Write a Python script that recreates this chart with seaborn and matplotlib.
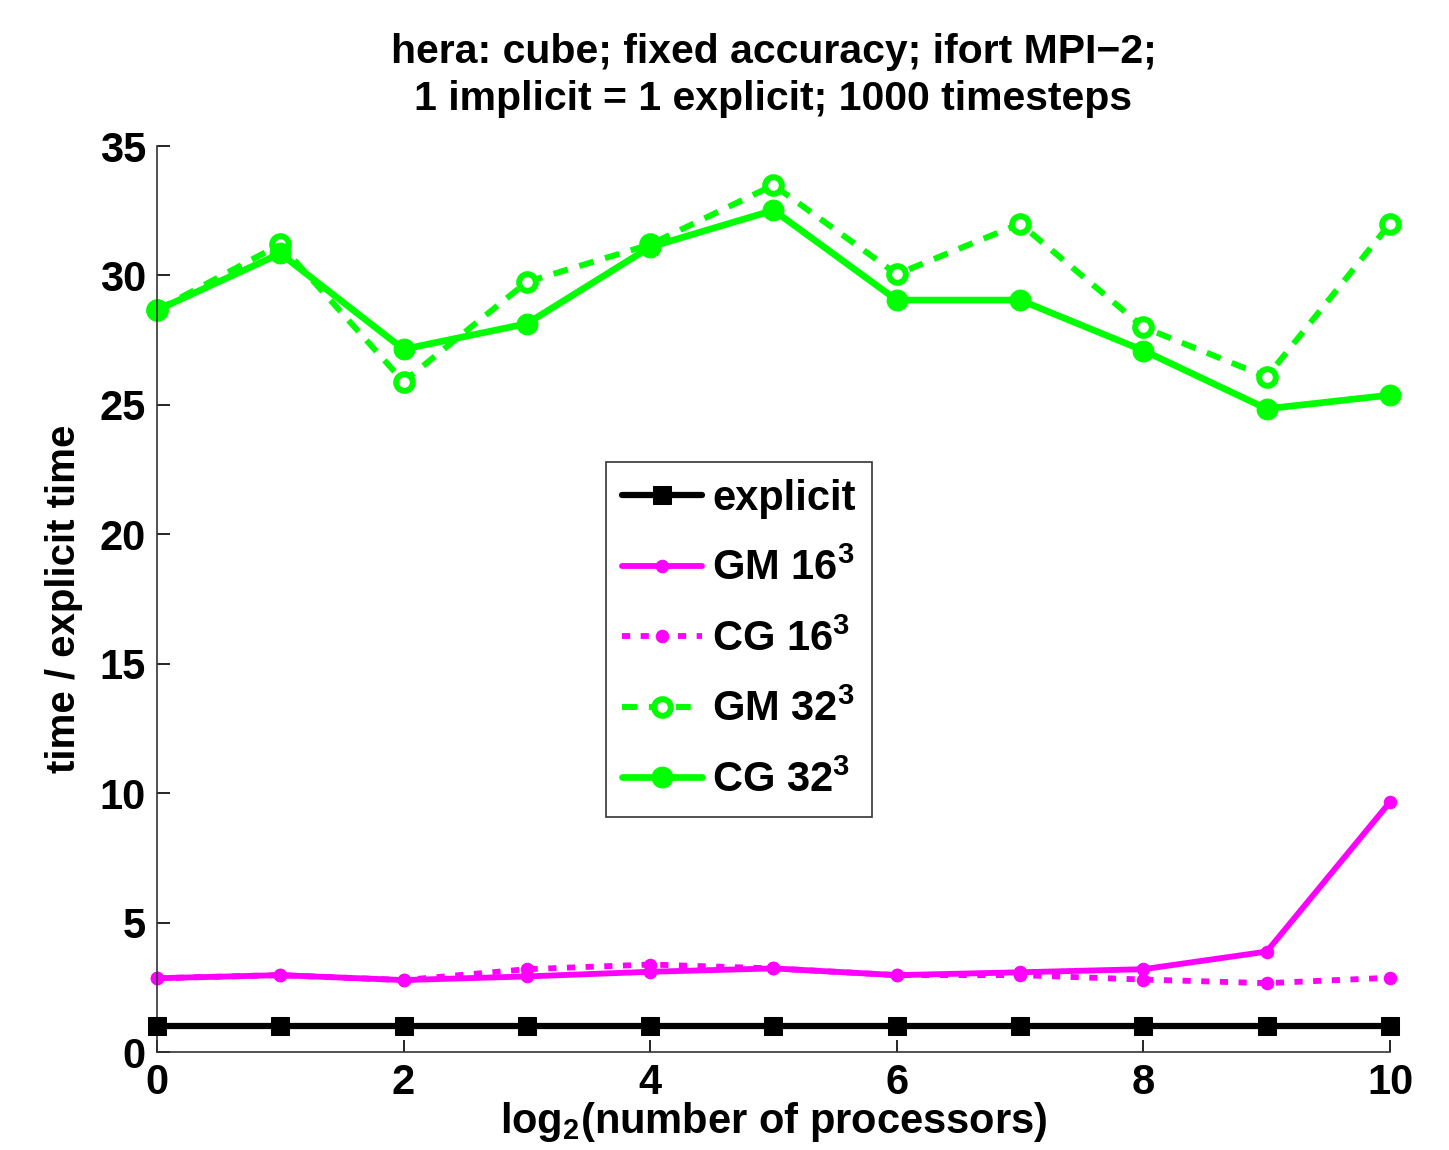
import numpy as np
import pandas as pd
import matplotlib
matplotlib.use("Agg")
import matplotlib.pyplot as plt
import seaborn as sns

# data
log2_procs = [0, 1, 2, 3, 4, 5, 6, 7, 8, 9, 10]
explicit = [1, 1, 1, 1, 1, 1, 1, 1, 1, 1, 1]
gm_16 = [2.85, 2.97, 2.78, 2.92, 3.10, 3.23, 2.97, 3.08, 3.20, 3.88, 9.66]
cg_16 = [2.85, 2.97, 2.78, 3.20, 3.38, 3.23, 2.97, 2.97, 2.80, 2.66, 2.87]
gm_32 = [28.66, 31.20, 25.90, 29.75, 31.20, 33.49, 30.05, 32.00, 28.00, 26.08, 32.00]
cg_32 = [28.66, 30.85, 27.15, 28.14, 31.10, 32.52, 29.05, 29.05, 27.10, 24.85, 25.38]

title = "hera: cube; fixed accuracy; ifort MPI\u22122;\n1 implicit = 1 explicit; 1000 timesteps"

sns.set_style("ticks")
plt.rcParams["font.family"] = ["Liberation Sans", "DejaVu Sans"]
plt.rcParams["font.weight"] = "bold"
plt.rcParams["text.color"] = "black"
plt.rcParams["axes.labelcolor"] = "black"
plt.rcParams["xtick.color"] = "black"
plt.rcParams["ytick.color"] = "black"
plt.rcParams["mathtext.fontset"] = "custom"
plt.rcParams["mathtext.rm"] = "Liberation Sans:bold"
plt.rcParams["mathtext.bf"] = "Liberation Sans:bold"
plt.rcParams["mathtext.it"] = "Liberation Sans:bold"
plt.rcParams["mathtext.default"] = "bf"

fig = plt.figure(figsize=(14.49, 11.5), dpi=100)
ax = fig.add_axes([0.1083, 0.0852, 0.8510, 0.7878])

green = "#00ff00"
magenta = "#ff00ff"

sns.lineplot(x=log2_procs, y=explicit, ax=ax, color="black", lw=4.5,
             marker="s", markersize=13, markeredgecolor="black",
             label="explicit", clip_on=False, zorder=3)
sns.lineplot(x=log2_procs, y=gm_16, ax=ax, color=magenta, lw=4.2,
             marker="o", markersize=9, markeredgecolor=magenta,
             label="GM 16$^3$", clip_on=False)
sns.lineplot(x=log2_procs, y=cg_16, ax=ax, color=magenta, lw=4.2,
             linestyle=(0, (1.4, 1.8)), marker="o", markersize=9,
             markeredgecolor=magenta, label="CG 16$^3$", clip_on=False)
sns.lineplot(x=log2_procs, y=gm_32, ax=ax, color=green, lw=4.3,
             linestyle=(0, (2.5, 2.0)), marker="o", markersize=12,
             markerfacecolor="white", markeredgewidth=4.3,
             markeredgecolor=green, label="GM 32$^3$", clip_on=False)
sns.lineplot(x=log2_procs, y=cg_32, ax=ax, color=green, lw=4.8,
             marker="o", markersize=15, markeredgecolor=green,
             label="CG 32$^3$", clip_on=False)

ax.set_xlim(0, 10)
ax.set_ylim(0, 35)
ax.set_xticks(range(0, 11, 2))
ax.set_yticks(range(0, 36, 5))
ax.tick_params(direction="in", length=9, width=1.2, labelsize=30, pad=8)
for lab in ax.get_xticklabels() + ax.get_yticklabels():
    lab.set_fontweight("bold")
sns.despine(ax=ax)
for sp in ("left", "bottom"):
    ax.spines[sp].set_linewidth(1.2)
    ax.spines[sp].set_color("#333333")

ax.set_title(title, fontsize=29.5, fontweight="bold", pad=26, linespacing=1.3)
ax.set_xlabel("log$_2$(number of processors)", fontsize=30, fontweight="bold",
              labelpad=-2)
ax.set_ylabel("time / explicit time", fontsize=29, fontweight="bold",
              labelpad=12)

leg = ax.legend(loc="upper left", bbox_to_anchor=(0.364, 0.651),
                fontsize=30, frameon=True, fancybox=False, handlelength=1.9,
                handletextpad=0.25, labelspacing=0.72, borderpad=0.4,
                borderaxespad=0)
leg.get_frame().set_edgecolor("black")
leg.get_frame().set_linewidth(1.2)
for t in leg.get_texts():
    t.set_fontweight("bold")

fig.savefig("out.png", dpi=100)
